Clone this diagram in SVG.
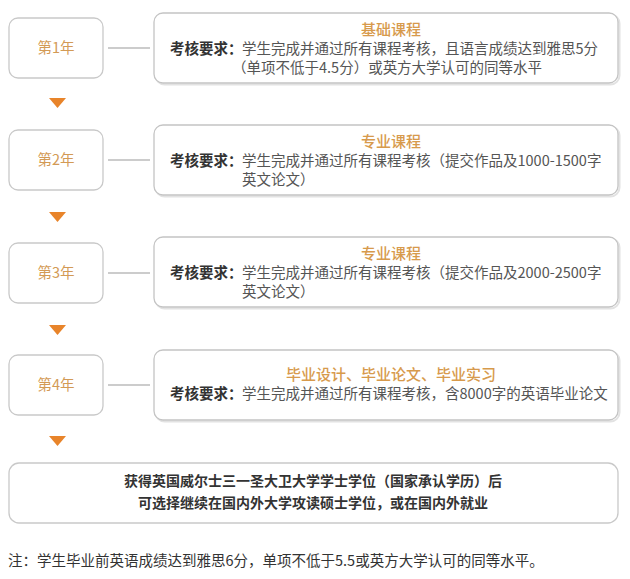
<svg xmlns="http://www.w3.org/2000/svg" width="630" height="579" viewBox="0 0 630 579">
<defs>
<style>
text{font-family:"Noto Sans CJK SC","Noto Sans",sans-serif;}
.yb{fill:#fff;stroke:#c9c9c9;stroke-width:1.3;}
.cb{fill:#fff;stroke:#c4c4c4;stroke-width:1.3;}
.sh{fill:none;stroke:#e2e2e2;stroke-width:2;}
.yt{font-size:14.5px;fill:#d39a55;text-anchor:middle;}
.tt{font-size:15px;fill:#d79a4c;text-anchor:middle;font-weight:500;}
.lb{font-size:14.5px;fill:#333;font-weight:bold;}
.bd{font-size:14.5px;fill:#555;}
.fn{font-size:14px;fill:#333;font-weight:bold;text-anchor:middle;}
.nt{font-size:14.5px;fill:#333;}
.ln{stroke:#9a9a9a;stroke-width:1.2;}
.ar{fill:#e8842a;}
</style>
</defs>
<rect width="630" height="579" fill="#fff"/>
<g id="connectors">
<line class="ln" x1="108" y1="48" x2="150" y2="48"/>
<line class="ln" x1="108" y1="160" x2="150" y2="160"/>
<line class="ln" x1="108" y1="273" x2="150" y2="273"/>
<line class="ln" x1="108" y1="385" x2="150" y2="385"/>
<polygon class="ar" points="49,98 66,98 57.5,108"/>
<polygon class="ar" points="49,212 66,212 57.5,222"/>
<polygon class="ar" points="49,325 66,325 57.5,335"/>
<polygon class="ar" points="49,436 66,436 57.5,446"/>
</g>
<g id="year1">
<rect class="yb" x="9" y="18" width="94" height="60" rx="9"/>
<text class="yt" x="56" y="53">第1年</text>
</g>
<g id="course1">
<rect class="sh" x="155.5" y="14.5" width="464" height="70" rx="9"/>
<rect class="cb" x="154" y="13" width="464" height="70" rx="9"/>
<text class="tt" x="391" y="35">基础课程</text>
<text class="lb" x="170" y="54">考核要求：</text>
<text class="bd" x="242" y="54">学生完成并通过所有课程考核，且语言成绩达到雅思5分</text>
<text class="bd" x="232" y="73">（单项不低于4.5分）或英方大学认可的同等水平</text>
</g>
<g id="year2">
<rect class="yb" x="9" y="130" width="94" height="60" rx="9"/>
<text class="yt" x="56" y="165">第2年</text>
</g>
<g id="course2">
<rect class="sh" x="155.5" y="126.5" width="464" height="70" rx="9"/>
<rect class="cb" x="154" y="125" width="464" height="70" rx="9"/>
<text class="tt" x="391" y="147">专业课程</text>
<text class="lb" x="170" y="166">考核要求：</text>
<text class="bd" x="242" y="166">学生完成并通过所有课程考核（提交作品及1000-1500字</text>
<text class="bd" x="242" y="185">英文论文）</text>
</g>
<g id="year3">
<rect class="yb" x="9" y="243" width="94" height="60" rx="9"/>
<text class="yt" x="56" y="278">第3年</text>
</g>
<g id="course3">
<rect class="sh" x="155.5" y="238.5" width="464" height="70" rx="9"/>
<rect class="cb" x="154" y="237" width="464" height="70" rx="9"/>
<text class="tt" x="391" y="259">专业课程</text>
<text class="lb" x="170" y="278">考核要求：</text>
<text class="bd" x="242" y="278">学生完成并通过所有课程考核（提交作品及2000-2500字</text>
<text class="bd" x="242" y="297">英文论文）</text>
</g>
<g id="year4">
<rect class="yb" x="9" y="355" width="94" height="60" rx="9"/>
<text class="yt" x="56" y="390">第4年</text>
</g>
<g id="course4">
<rect class="sh" x="155.5" y="351.5" width="464" height="70" rx="9"/>
<rect class="cb" x="154" y="350" width="464" height="70" rx="9"/>
<text class="tt" x="391" y="380">毕业设计、毕业论文、毕业实习</text>
<text class="lb" x="170" y="399">考核要求：</text>
<text class="bd" x="242" y="399">学生完成并通过所有课程考核，含8000字的英语毕业论文</text>
</g>
<g id="result">
<rect class="yb" x="9" y="463" width="609" height="60" rx="10"/>
<text class="fn" x="313" y="486">获得英国威尔士三一圣大卫大学学士学位（国家承认学历）后</text>
<text class="fn" x="313" y="508">可选择继续在国内外大学攻读硕士学位，或在国内外就业</text>
</g>
<g id="note">
<text class="nt" x="8" y="566">注：学生毕业前英语成绩达到雅思6分，单项不低于5.5或英方大学认可的同等水平。</text>
</g>
</svg>
